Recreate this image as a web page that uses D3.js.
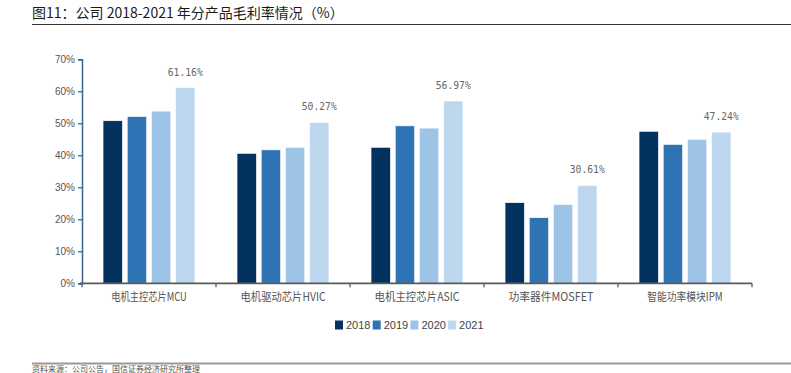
<!DOCTYPE html>
<html>
<head>
<meta charset="utf-8">
<script src="https://cdn.jsdelivr.net/npm/d3@7"></script>
<style>
  html, body { margin: 0; padding: 0; background: #fff; }
  svg { display: block; font-family: "Noto Sans CJK SC", "Noto Sans", sans-serif; }
</style>
</head>
<body>
<div id="chart"></div>
<script>
// data
const categories = ["电机主控芯片MCU", "电机驱动芯片HVIC", "电机主控芯片ASIC", "功率器件MOSFET", "智能功率模块IPM"];
const years = ["2018", "2019", "2020", "2021"];
const margin2018 = [50.8, 40.6, 42.5, 25.2, 47.5];
const margin2019 = [52.1, 41.7, 49.2, 20.5, 43.4];
const margin2020 = [53.8, 42.5, 48.5, 24.6, 45.0];
const margin2021 = [61.16, 50.27, 56.97, 30.61, 47.24];
const yTicks = [0, 10, 20, 30, 40, 50, 60, 70];
const colors = ["#03325f", "#2e74b5", "#9dc3e6", "#bdd7ee"];

const series = [margin2018, margin2019, margin2020, margin2021];

const width = 791, height = 373;
const svg = d3.select("#chart").append("svg")
    .attr("width", width)
    .attr("height", height);

// title + rules
svg.append("text")
    .attr("x", 32).attr("y", 18)
    .attr("font-size", 14)
    .attr("fill", "#1a1a1a")
    .text("图11：公司 2018-2021 年分产品毛利率情况（%）");
svg.append("line")
    .attr("x1", 32).attr("x2", width).attr("y1", 24.5).attr("y2", 24.5)
    .attr("stroke", "#333").attr("stroke-width", 1);
svg.append("line")
    .attr("x1", 32).attr("x2", width).attr("y1", 363.5).attr("y2", 363.5)
    .attr("stroke", "#999").attr("stroke-width", 2);
svg.append("text")
    .attr("x", 32).attr("y", 372)
    .attr("font-size", 8)
    .attr("fill", "#555")
    .text("资料来源：公司公告，国信证券经济研究所整理");

// scales
const x0 = d3.scaleBand().domain(categories).range([82, 752]).padding(0);
const x1 = d3.scaleBand().domain(years).range([0, x0.bandwidth()])
    .paddingInner(0.2).paddingOuter(0.87);
const y = d3.scaleLinear().domain([0, 70]).range([283.3, 59.3]);

// y axis
const yAxis = svg.append("g")
    .attr("transform", "translate(82,0)")
    .call(d3.axisLeft(y).tickValues(yTicks).tickFormat(d => d + "%").tickSize(4).tickPadding(3));
yAxis.select(".domain").attr("stroke", "#3b6596").attr("stroke-width", 1.5);
yAxis.selectAll(".tick line").attr("stroke", "#3b6596").attr("stroke-width", 1.3);
yAxis.selectAll(".tick text").attr("fill", "#555").attr("font-size", 10)
    .attr("font-family", "'Liberation Sans', Arial, sans-serif");

// bars
const groups = svg.append("g").selectAll("g")
    .data(categories)
    .join("g")
    .attr("transform", d => `translate(${x0(d)},0)`);

groups.selectAll("rect")
    .data((c, i) => years.map((yr, k) => ({ yr, k, v: series[k][i] })))
    .join("rect")
    .attr("x", d => x1(d.yr))
    .attr("width", x1.bandwidth())
    .attr("y", d => y(d.v))
    .attr("height", d => y(0) - y(d.v))
    .attr("fill", d => colors[d.k])
    .attr("stroke", "#fff")
    .attr("stroke-width", 0.6);

// value labels on 2021 bars
groups.append("text")
    .attr("x", x1("2021") + x1.bandwidth() / 2)
    .attr("y", (c, i) => y(margin2021[i]) - 12)
    .attr("text-anchor", "middle")
    .attr("font-size", 10.5)
    .attr("fill", "#666")
    .attr("font-family", "'DejaVu Sans Mono', monospace")
    .attr("textLength", 35)
    .attr("lengthAdjust", "spacingAndGlyphs")
    .text((c, i) => margin2021[i].toFixed(2) + "%");

// x axis
const xAxis = svg.append("g")
    .attr("transform", `translate(0,${y(0)})`);
xAxis.append("line")
    .attr("x1", 80).attr("x2", 752)
    .attr("stroke", "#5a5a5a").attr("stroke-width", 1.8);
xAxis.selectAll(".sep")
    .data(categories.concat([null]))
    .join("line")
    .attr("class", "sep")
    .attr("x1", (d, i) => i < categories.length ? x0(d) : x0.range()[1])
    .attr("x2", (d, i) => i < categories.length ? x0(d) : x0.range()[1])
    .attr("y1", 0).attr("y2", 4)
    .attr("stroke", "#5a5a5a").attr("stroke-width", 1.3);
xAxis.selectAll(".lab")
    .data(categories)
    .join("text")
    .attr("class", "lab")
    .attr("x", d => x0(d) + x0.bandwidth() / 2)
    .attr("y", 18)
    .attr("text-anchor", "middle")
    .attr("font-size", 11.5)
    .attr("fill", "#555")
    .attr("textLength", d => d.length * 9.5 - 10)
    .attr("lengthAdjust", "spacingAndGlyphs")
    .text(d => d);

// legend
const legend = svg.append("g").attr("transform", "translate(335,325)");
const item = legend.selectAll("g")
    .data(years)
    .join("g")
    .attr("transform", (d, i) => `translate(${i * 37.7},0)`);
item.append("rect")
    .attr("x", 0).attr("y", -4.5)
    .attr("width", 8).attr("height", 9)
    .attr("fill", (d, i) => colors[i]);
item.append("text")
    .attr("x", 11).attr("y", 4)
    .attr("font-size", 11)
    .attr("fill", "#444")
    .attr("font-family", "'Liberation Sans', Arial, sans-serif")
    .text(d => d);
</script>
</body>
</html>
